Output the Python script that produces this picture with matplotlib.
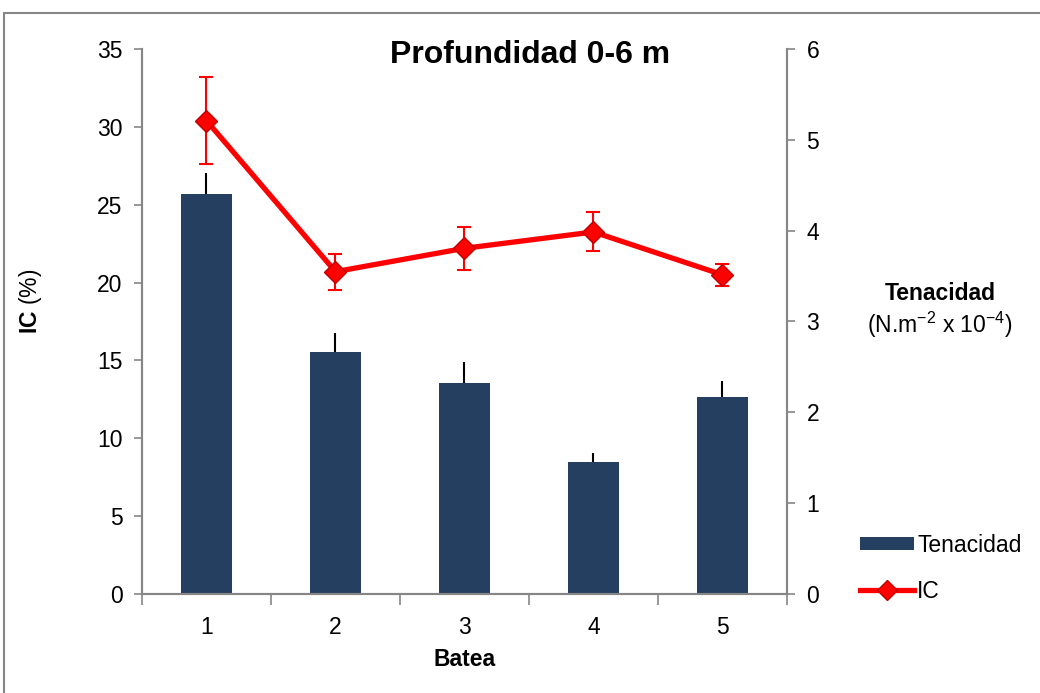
import numpy as np
import matplotlib.pyplot as plt
from matplotlib.patches import Rectangle, Patch
from matplotlib.lines import Line2D

plt.rcParams['font.family'] = ['Liberation Sans', 'DejaVu Sans']
plt.rcParams['mathtext.fontset'] = 'custom'
plt.rcParams['mathtext.rm'] = 'Liberation Sans'
plt.rcParams['mathtext.bf'] = 'Liberation Sans:bold'
plt.rcParams['mathtext.it'] = 'Liberation Sans:italic'

batea = [1, 2, 3, 4, 5]
tenacidad = [4.40, 2.66, 2.32, 1.45, 2.17]
tenacidad_err = [0.24, 0.21, 0.23, 0.10, 0.17]
ic = [30.4, 20.7, 22.2, 23.25, 20.5]
ic_err = [2.8, 1.15, 1.4, 1.25, 0.7]

navy = '#243F60'
grey = '#868686'
fs = 16.5

fig = plt.figure(figsize=(10.4, 6.93), dpi=100)
ax = fig.add_axes([0.1365, 0.1429, 0.6202, 0.7864])
ax2 = ax.twinx()

# bars (right axis)
ax2.bar(batea, tenacidad, width=0.4, color=navy, zorder=2)
ax2.errorbar(batea, tenacidad, yerr=[np.zeros(5), tenacidad_err], fmt='none',
             ecolor='black', elinewidth=1.5, capsize=0, zorder=3)

# line (left axis), drawn above the bars
ax.set_zorder(ax2.get_zorder() + 1)
ax.patch.set_visible(False)
ax.errorbar(batea, ic, yerr=ic_err, fmt='none', ecolor='#FF0000',
            elinewidth=1.5, capsize=5, capthick=1.5, zorder=3)
ax.plot(batea, ic, color='#FF0000', lw=3.8, marker='D', markersize=11,
        markerfacecolor='#FF0000', markeredgecolor='#C00000', zorder=4)

ax.set_xlim(0.5, 5.5)
ax.set_ylim(0, 35)
ax2.set_ylim(0, 6)
ax.set_yticks(range(0, 36, 5))
ax2.set_yticks(range(0, 7))
ax.set_xticks(batea)
ax.set_xticks(np.arange(0.5, 5.6, 1), minor=True)
ax.tick_params(axis='x', which='major', length=0, pad=16, labelsize=fs)
ax.tick_params(axis='x', which='minor', length=8, color=grey, width=1.2)
ax.tick_params(axis='y', length=6, color=grey, width=1.2, labelsize=fs, pad=8)
ax2.tick_params(axis='y', length=6, color=grey, width=1.2, labelsize=fs, pad=8)

for a in (ax, ax2):
    a.spines['top'].set_visible(False)
    for s in ('left', 'right', 'bottom'):
        a.spines[s].set_color(grey)
        a.spines[s].set_linewidth(1.5)

ax.set_xlabel('Batea', fontsize=fs, fontweight='bold', labelpad=6)
fig.text(0.029, 0.565, r'$\mathbf{IC}$ (%)', rotation=90, fontsize=fs,
         ha='center', va='center')
fig.text(0.904, 0.577, 'Tenacidad', fontsize=fs, fontweight='bold',
         ha='center', va='center')
fig.text(0.904, 0.531, r'(N.m$^{-2}$ x 10$^{-4}$)', fontsize=fs,
         ha='center', va='center')

fig.text(0.51, 0.92, 'Profundidad 0-6 m', fontsize=23, fontweight='bold',
         ha='center', va='center')

handles = [Patch(facecolor=navy),
           Line2D([0], [0], color='#FF0000', lw=3.8, marker='D', markersize=10,
                  markerfacecolor='#FF0000', markeredgecolor='#C00000')]
fig.legend(handles, ['Tenacidad', 'IC'], loc='center left',
           bbox_to_anchor=(0.807, 0.18), frameon=False, fontsize=fs,
           handlelength=2.35, handleheight=0.5, handletextpad=0.15,
           labelspacing=1.0)

fig.patches.append(Rectangle((0.004, -0.1), 1.1, 1.081, transform=fig.transFigure,
                             fill=False, edgecolor=grey, lw=1.5))

fig.savefig('out.png', dpi=100)
